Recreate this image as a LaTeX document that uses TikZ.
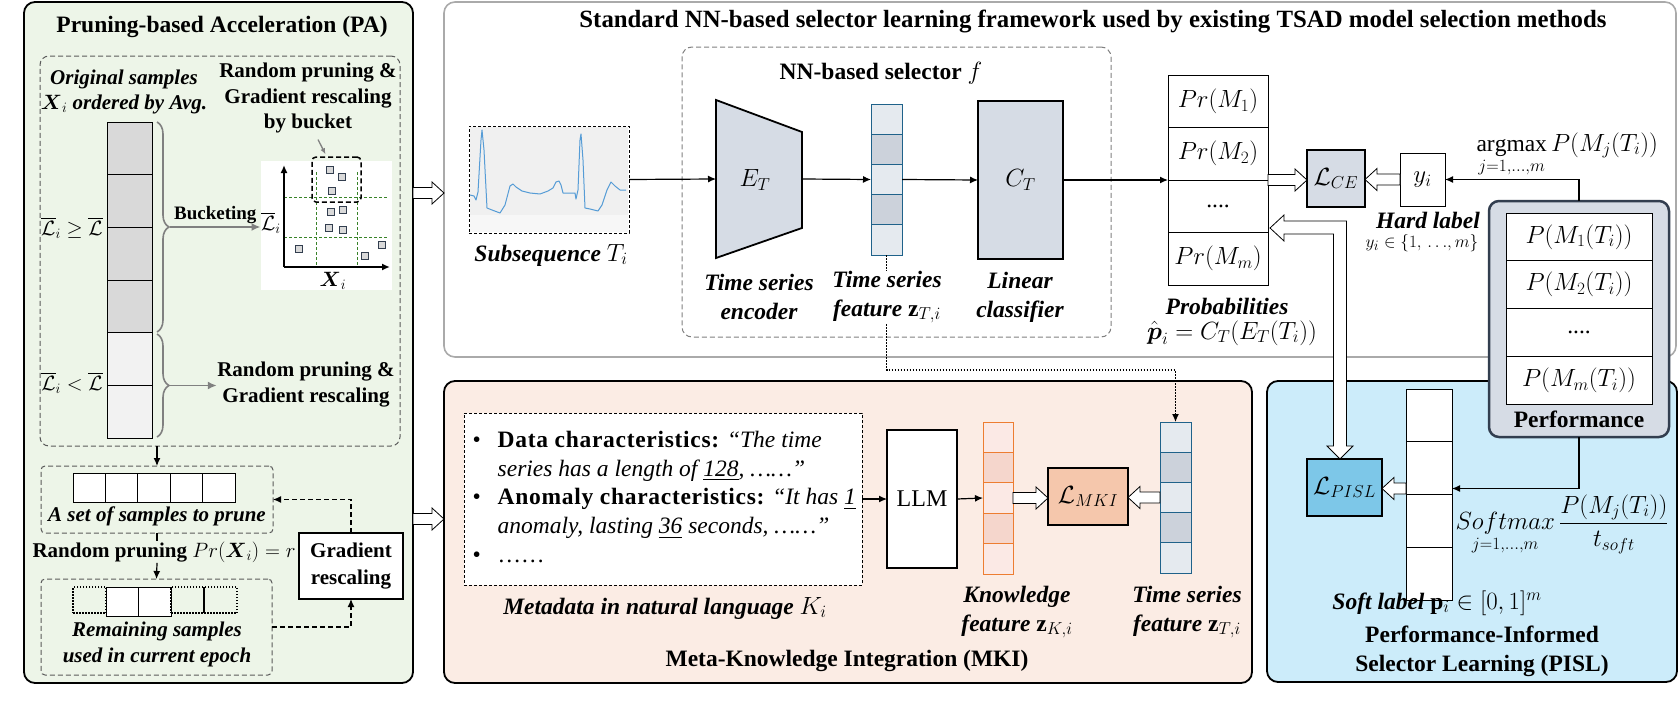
\documentclass[tikz,border=0pt]{standalone}
\usepackage{amsmath,amssymb}
\usepackage{fontspec}
\setmainfont{Liberation Serif}
\usepackage{tikz}
\usetikzlibrary{decorations.pathreplacing}
\usetikzlibrary{positioning,arrows.meta,calc}
\usepackage{xcolor}

\definecolor{pagreen}{RGB}{237,245,232}
\definecolor{mkipeach}{RGB}{251,236,228}
\definecolor{pislblue}{RGB}{204,236,250}
\definecolor{slatefill}{RGB}{214,220,229}
\definecolor{slateedge}{RGB}{50,62,79}
\definecolor{tsedge}{RGB}{31,98,138}
\definecolor{tslight}{RGB}{229,234,239}
\definecolor{tsdark}{RGB}{204,210,219}
\definecolor{kedge}{RGB}{237,125,49}
\definecolor{klight}{RGB}{251,233,229}
\definecolor{kdark}{RGB}{245,214,204}
\definecolor{mkiloss}{RGB}{245,199,172}
\definecolor{pislloss}{RGB}{125,199,232}
\definecolor{gridgreen}{RGB}{56,130,40}
\definecolor{bracegray}{RGB}{128,128,128}
\definecolor{ecgblue}{RGB}{86,156,214}
\definecolor{panelgray}{RGB}{170,170,170}
\definecolor{dashgray}{RGB}{90,90,90}
\definecolor{cellgray}{RGB}{217,217,217}
\definecolor{cellpale}{RGB}{242,242,242}

\newcommand{\fsPA}{\fontsize{21}{25.5}\selectfont}
\newcommand{\fsMain}{\fontsize{23.5}{29}\selectfont}
\newcommand{\metabold}[1]{{\bfseries\addfontfeature{LetterSpace=3}#1}}
\newcommand{\hollow}[2]{%
	\draw[hollowline] let \p1=(#1), \p2=(#2), \p3=($(#2)!12pt!(#1)$) in
		(\x1,\y1+5.5pt) -- (\x3,\y1+5.5pt) -- (\x3,\y1+11pt) -- (\x2,\y1) -- (\x3,\y1-11pt) -- (\x3,\y1-5.5pt) -- (\x1,\y1-5.5pt) -- cycle;}

\begin{document}
\begin{tikzpicture}[x=1pt, y=-1pt, line width=1pt,
	panel/.style={draw, line width=1.8pt, rounded corners=11pt, inner sep=0pt, outer sep=0pt},
	cell/.style={draw, line width=0.9pt, inner sep=0pt, outer sep=0pt},
	thickbox/.style={draw, line width=2.2pt, inner sep=0pt, outer sep=0pt},
	dashbox/.style={draw, line width=1pt, dash pattern=on 5pt off 3pt, inner sep=0pt, outer sep=0pt},
	patxt/.style={font=\fsPA\bfseries, align=center, inner sep=0pt},
	paital/.style={font=\fsPA\bfseries\itshape, align=center, inner sep=0pt},
	maintxt/.style={font=\fsMain\bfseries, align=center, inner sep=0pt},
	mainital/.style={font=\fsMain\bfseries\itshape, align=center, inner sep=0pt},
	mathtxt/.style={font=\fsMain, inner sep=0pt},
	arr/.style={-{Latex[length=8pt,width=7pt]}, line width=1.2pt},
	grayarr/.style={-{Latex[length=9pt,width=8pt]}, line width=1.8pt, bracegray},
	darr/.style={arr, dash pattern=on 5pt off 3pt},
	dotarr/.style={arr, dash pattern=on 1.5pt off 1.5pt},
	hollowline/.style={draw, fill=white, line width=0.8pt, line join=miter},
	sqdot/.style={draw=slateedge, fill=cellgray, line width=0.8pt, minimum size=7pt, inner sep=0pt},
	dotcell/.style={cell, line width=1.3pt, dash pattern=on 1.5pt off 1.5pt},
	]

	\useasboundingbox (0,0) rectangle (1679,704);

	\node[panel, fill=pagreen, minimum width=389pt, minimum height=681pt] (pa) at (218.5,342.5) {};
	\node[panel, draw=panelgray, fill=white, line width=1.6pt, minimum width=1232pt, minimum height=355pt] (std) at (1060,179.5) {};
	\node[panel, fill=mkipeach, minimum width=808pt, minimum height=302pt] (mki) at (848,532) {};
	\node[panel, fill=pislblue, minimum width=410pt, minimum height=301pt] (pisl) at (1472,531.5) {};

	\node[maintxt] (patitle) at (222,27) {Pruning-based Acceleration (PA)};
	\node[maintxt, font=\fontsize{24.8}{29}\selectfont\bfseries] (stdtitle) at (1093,22) {Standard NN-based selector learning framework used by existing TSAD model selection methods};
	\node[maintxt] (mkititle) at (847,661) {Meta-Knowledge Integration (MKI)};
	\node[maintxt] (pisltitle) at (1482,651) {Performance-Informed\\Selector Learning (PISL)};

	% pruning-based acceleration
	\node[dashbox, draw=dashgray, rounded corners=9pt, minimum width=360pt, minimum height=390pt] (padash) at (220,251) {};
	\node[paital] (origlbl) at (124,92) {Original samples\\$\boldsymbol{X}_i$ ordered by Avg.};
	\foreach \i/\c in {1/cellgray,2/cellgray,3/cellgray,4/cellgray,5/cellpale,6/cellpale}
		\node[cell, fill=\c, minimum width=45pt, minimum height=52.67pt] (col\i) at (129.5,{95.67+52.67*\i}) {};
	\node[font=\fontsize{20}{24}\selectfont, inner sep=0pt] (hiloss) at (72,228) {$\overline{\mathcal{L}}_i \geq \overline{\mathcal{L}}$};
	\node[font=\fontsize{20}{24}\selectfont, inner sep=0pt] (loloss) at (72,383) {$\overline{\mathcal{L}}_i < \overline{\mathcal{L}}$};

	\draw[bracegray, line width=1.6pt, decorate, decoration={brace, amplitude=12pt}] (157,122) -- (157,332);
	\draw[bracegray, line width=1.6pt, decorate, decoration={brace, amplitude=12pt}] (157,334) -- (157,437);
	\coordinate (tiphi) at (170,227);
	\coordinate (tiplo) at (170,385.5);

	\node[patxt] (rpgb) at (308,98) {Random pruning \&\\Gradient rescaling\\by bucket};
	\node[fill=white, minimum width=131pt, minimum height=129pt, inner sep=0pt] (chartbg) at (326.5,225.5) {};
	\draw[gridgreen, line width=0.8pt, dash pattern=on 3pt off 2pt] (284,197) -- (388,197) (284,237) -- (388,237) (316,172) -- (316,267) (357,172) -- (357,267);
	\draw[-{Latex[length=8pt,width=7pt]}, line width=1.8pt] (284,267) -- (284,165);
	\draw[-{Latex[length=8pt,width=7pt]}, line width=1.8pt] (284,267) -- (390,267);
	\node[draw, line width=1.5pt, dash pattern=on 5pt off 3pt, rounded corners=4pt, minimum width=49pt, minimum height=45pt, inner sep=0pt] (bucket) at (336.5,179.5) {};
	\foreach \sx/\sy in {330/170, 342/177, 332/191, 331/212, 343/210, 329/228, 343/230, 299/249, 365/256, 382/245}
		\node[sqdot] at (\sx,\sy) {};
	\node[font=\fontsize{20}{24}\selectfont, inner sep=0pt] (chartylbl) at (271,223) {$\overline{\mathcal{L}}_i$};
	\node[font=\fontsize{20}{24}\selectfont, inner sep=0pt] (chartxlbl) at (333,281) {$\boldsymbol{X}_i$};
	\draw[bracegray, -{Latex[length=6pt,width=5pt]}, line width=1.3pt] ($(rpgb.south)+(10,6)$) -- ($(bucket.north)+(-11,-2)$);

	\draw[grayarr] (tiphi) -- (tiphi -| chartbg.west) node[midway, above=2pt, text=black, font=\fontsize{19}{22}\selectfont\bfseries, inner sep=0pt] (bucketlbl) {Bucketing};
	\node[patxt] (rpg) at (306,384.5) {Random pruning \&\\Gradient rescaling};
	\draw[grayarr] (tiplo) -- (tiplo -| rpg.west);

	\node[dashbox, draw=dashgray, rounded corners=4pt, minimum width=232pt, minimum height=67pt] (setbox) at (157,499.5) {};
	\foreach \i in {1,...,5}
		\node[cell, fill=white, minimum width=32.4pt, minimum height=29pt] (set\i) at ({73+32.4*(\i-0.5)},487.5) {};
	\node[paital] (setlbl) at (157,516) {A set of samples to prune};
	\draw[arr] (padash.south -| setbox.north) -- (setbox.north);

	\node[patxt] (prunetxt) at (164,552) {Random pruning $Pr(\boldsymbol{X}_i) = r$};
	\node[dashbox, draw=dashgray, rounded corners=4pt, minimum width=231pt, minimum height=96pt] (remain) at (156.5,627) {};
	\draw[line width=1.2pt] (setbox.south) -- (setbox.south |- prunetxt.north);
	\draw[arr] (setbox.south |- prunetxt.south) -- (remain.north);
	\node[dotcell, minimum width=33pt, minimum height=26pt] (rem1) at (89.5,600) {};
	\node[cell, fill=white, minimum width=32pt, minimum height=29pt] (rem2) at (122,601.5) {};
	\node[cell, fill=white, minimum width=33pt, minimum height=29pt] (rem3) at (154.5,601.5) {};
	\node[dotcell, minimum width=33pt, minimum height=26pt] (rem4) at (187.5,600) {};
	\node[dotcell, minimum width=33pt, minimum height=26pt] (rem5) at (220.5,600) {};
	\draw[line width=1.3pt] (rem4.north east) -- (rem4.south east);
	\node[paital, font=\fontsize{21}{26}\selectfont\bfseries\itshape] (remlbl) at (157,644) {Remaining samples\\used in current epoch};

	\node[thickbox, fill=white, minimum width=104pt, minimum height=66pt, patxt, font=\fontsize{21}{27}\selectfont\bfseries] (gradbox) at (351,566) {Gradient\\rescaling};
	\draw[darr] (remain.east) -| (gradbox.south);
	\draw[darr] (gradbox.north) |- (setbox.east);

	\coordinate (paout1) at (pa.east |- 0,193);
	\coordinate (stdin) at (std.west |- 0,193);
	\coordinate (paout2) at (pa.east |- 0,519);
	\coordinate (mkiin) at (mki.west |- 0,519);
	\hollow{paout1}{stdin}
	\hollow{paout2}{mkiin}

	% standard selector framework
	\node[dashbox, draw=gray, rounded corners=10pt, minimum width=429pt, minimum height=290pt] (nnbox) at (896.5,192) {};
	\node[maintxt] (nntitle) at (881,73) {NN-based selector $f$};

	\node[draw, line width=1pt, dash pattern=on 3pt off 2pt, minimum width=160pt, minimum height=107pt, inner sep=0pt, outer sep=0pt] (subseq) at (549,179.5) {};
	\fill[black!6] (470,127) rectangle (628,215);
	\fill[black!3] (470,215) rectangle (628,232);
	\draw[ecgblue, line width=1pt, line join=round] (470,195) -- (474,196) -- (476,200) -- (478,192) -- (481,140) -- (482,130) -- (484,150) -- (487,208) -- (492,210) -- (500,213) -- (505,205) -- (510,186) -- (513,184) -- (516,187) -- (522,191) -- (530,193) -- (540,194) -- (548,191) -- (553,188) -- (556,182) -- (559,181) -- (561,185) -- (563,193) -- (570,193) -- (575,193) -- (576,199) -- (578,190) -- (580,140) -- (581,134) -- (583,160) -- (585,208) -- (590,209) -- (598,211) -- (602,205) -- (607,190) -- (611,182) -- (615,186) -- (620,190) -- (626,190);

	\node[minimum width=86pt, minimum height=158pt, inner sep=0pt, outer sep=0pt] (enc) at (759,179) {};
	\draw[line width=1.8pt, fill=slatefill, line join=miter] (enc.north west) -- ($(enc.north east)+(0,32)$) -- ($(enc.south east)+(0,-30)$) -- (enc.south west) -- cycle;
	\node[mathtxt] (enctxt) at (755,180) {$E_T$};

	\foreach \i/\c in {1/tslight,2/tsdark,3/tslight,4/tsdark,5/tslight}
		\node[cell, draw=tsedge, fill=\c, minimum width=31pt, minimum height=30.2pt] (tsf\i) at (886.5,{104+30.2*(\i-0.5)}) {};

	\node[thickbox, fill=slatefill, minimum width=85pt, minimum height=158pt, font=\fsMain] (ct) at (1020.5,180) {$C_T$};

	\foreach \i/\t in {1/{$Pr(M_1)$},2/{$Pr(M_2)$},3/{....},4/{$Pr(M_m)$}}
		\node[cell, fill=white, minimum width=100pt, minimum height=52.5pt, font=\fsMain] (prob\i) at (1218,{75+52.5*(\i-0.5)}) {\t};

	\node[thickbox, fill=slatefill, minimum width=58pt, minimum height=57pt, font=\fsMain] (lce) at (1336,178.5) {$\mathcal{L}_{CE}$};
	\node[cell, fill=white, minimum width=45pt, minimum height=53pt, font=\fsMain] (yi) at (1422.5,179.5) {$y_i$};

	\draw[arr] (subseq.east) -- (enc.west);
	\draw[arr] (enc.east) -- (tsf3.west);
	\draw[arr] (tsf3.east) -- (ct.west);
	\draw[arr] (ct.east) -- (prob2.south west);
	\hollow{prob2.south east}{lce.west}
	\hollow{yi.west}{lce.east}

	% meta-knowledge integration
	\node[draw, fill=white, line width=1pt, dash pattern=on 3pt off 2pt, minimum width=398pt, minimum height=172pt, inner sep=0pt, outer sep=0pt] (metabox) at (663,499) {};
	\node[font=\fontsize{23.5}{28.75}\selectfont, anchor=west, inner sep=0pt] (metatxt) at (472,499) {\begin{tabular}{@{}l@{\hspace{17pt}}l@{}}
		\textbullet & \metabold{Data characteristics:} \textit{“The time}\\
		& \textit{series has a length of \underline{128}, ……”}\\
		\textbullet & \metabold{Anomaly characteristics:} \textit{“It has \underline{1}}\\
		& \textit{anomaly, lasting \underline{36} seconds, ……”}\\
		\textbullet & ……
	\end{tabular}};
	\node[thickbox, fill=white, minimum width=70pt, minimum height=138pt, font=\fontsize{24}{28}\selectfont] (llm) at (922,499) {LLM};

	\foreach \i/\c in {1/klight,2/kdark,3/klight,4/kdark,5/klight}
		\node[cell, draw=kedge, fill=\c, minimum width=30pt, minimum height=30.4pt] (kf\i) at (998,{422+30.4*(\i-0.5)}) {};
	\node[thickbox, fill=mkiloss, minimum width=80pt, minimum height=57pt, font=\fsMain] (lmki) at (1088,496.5) {$\mathcal{L}_{MKI}$};
	\foreach \i/\c in {1/tslight,2/tsdark,3/tslight,4/tsdark,5/tslight}
		\node[cell, draw=tsedge, fill=\c, minimum width=31pt, minimum height=30.2pt] (mts\i) at (1175.5,{422+30.2*(\i-0.5)}) {};

	\draw[arr] (metabox.east) -- (llm.west);
	\draw[arr] (llm.east) -- (kf3.west);
	\hollow{kf3.east}{lmki.west}
	\hollow{mts3.west}{lmki.east}
	\draw[dotarr] (tsf5.south) -- ++(0,115) -| (mts1.north);

	% performance-informed selector learning
	\foreach \i in {1,...,4}
		\node[cell, fill=white, minimum width=46pt, minimum height=52.75pt] (soft\i) at (1429,{389+52.75*(\i-0.5)}) {};
	\node[thickbox, fill=pislloss, minimum width=75pt, minimum height=57pt, font=\fsMain] (lpisl) at (1344.5,487.5) {$\mathcal{L}_{PISL}$};
	\coordinate (softin) at ($(soft2.south west)+(0,-6)$);
	\hollow{softin}{lpisl.east}

	\draw[hollowline] let \p1=($(prob2.south east)+(2,48)$), \p2=(lpisl.north), \p3=($(lpisl.north)+(-4.5,0)$) in
		(\x1,\y1) -- (\x1+14pt,\y1+13pt) -- (\x1+14pt,\y1+7pt) -- (\x3+6.5pt,\y1+7pt) -- (\x3+6.5pt,\y2+13pt) -- (\x3+13pt,\y2+13pt) -- (\x3,\y2) -- (\x3-13pt,\y2+13pt) -- (\x3-6.5pt,\y2+13pt) -- (\x3-6.5pt,\y1-6pt) -- (\x1+14pt,\y1-6pt) -- (\x1+14pt,\y1-13pt) -- cycle;

	\node[thickbox, draw=slateedge, fill=slatefill, rounded corners=10pt, line width=2.5pt, minimum width=180pt, minimum height=236pt] (perf) at (1579,319) {};
	\foreach \i/\t in {1/{$P(M_1(T_i))$},2/{$P(M_2(T_i))$},3/{....},4/{$P(M_m(T_i))$}}
		\node[cell, fill=white, minimum width=146pt, minimum height=47.75pt, font=\fsMain] (perf\i) at (1579,{213+47.75*(\i-0.5)}) {\t};
	\node[maintxt] (perflbl) at (1579,419) {Performance};

	\draw[arr] (perf.north) |- (yi.east);
	\draw[arr] (perf.south) |- ($(soft2.south east)+(0,-6)$);

	% labels
	\node[mainital, fill=white] (subseqlbl) at (551,255) {Subsequence $T_i$};
	\node[mainital, fill=white] (enclbl) at (759,296.5) {Time series\\encoder};
	\node[mainital, fill=white] (tsflbl) at (887,297) {Time series\\feature $\mathbf{z}_{T,i}$};
	\node[mainital, fill=white] (ctlbl) at (1020,297) {Linear\\classifier};
	\node[mainital] (problbl) at (1227,306) {Probabilities};
	\node[mathtxt] (probeq) at (1232,333) {$\hat{\boldsymbol{p}}_i = C_T(E_T(T_i))$};
	\node[mathtxt, anchor=base west] (argmaxlbl) at (1476,151) {$\mathop{\mathrm{argmax}}\limits_{j=1,\ldots,m} P(M_j(T_i))$};
	\node[mainital] (hardlbl) at (1428,220) {Hard label};
	\node[mathtxt, font=\fontsize{19}{22}\selectfont] (hardset) at (1422,243) {$y_i \in \{1,\,{\ldots},m\}$};
	\node[mainital] (metalbl) at (665,608) {Metadata in natural language $K_i$};
	\node[mainital] (kflbl) at (1017,612) {Knowledge\\feature $\mathbf{z}_{K,i}$};
	\node[mainital] (mtslbl) at (1187,612) {Time series\\feature $\mathbf{z}_{T,i}$};
	\node[mathtxt] (softmaxlbl) at (1562,525) {$\displaystyle\mathop{Softmax}\limits_{j=1,\ldots,m} \frac{P(M_j(T_i))}{t_{soft}}$};
	\node[mainital] (softlbl) at (1437,603) {Soft label $\mathbf{p}_i \in [0,1]^m$};

\end{tikzpicture}
\end{document}
